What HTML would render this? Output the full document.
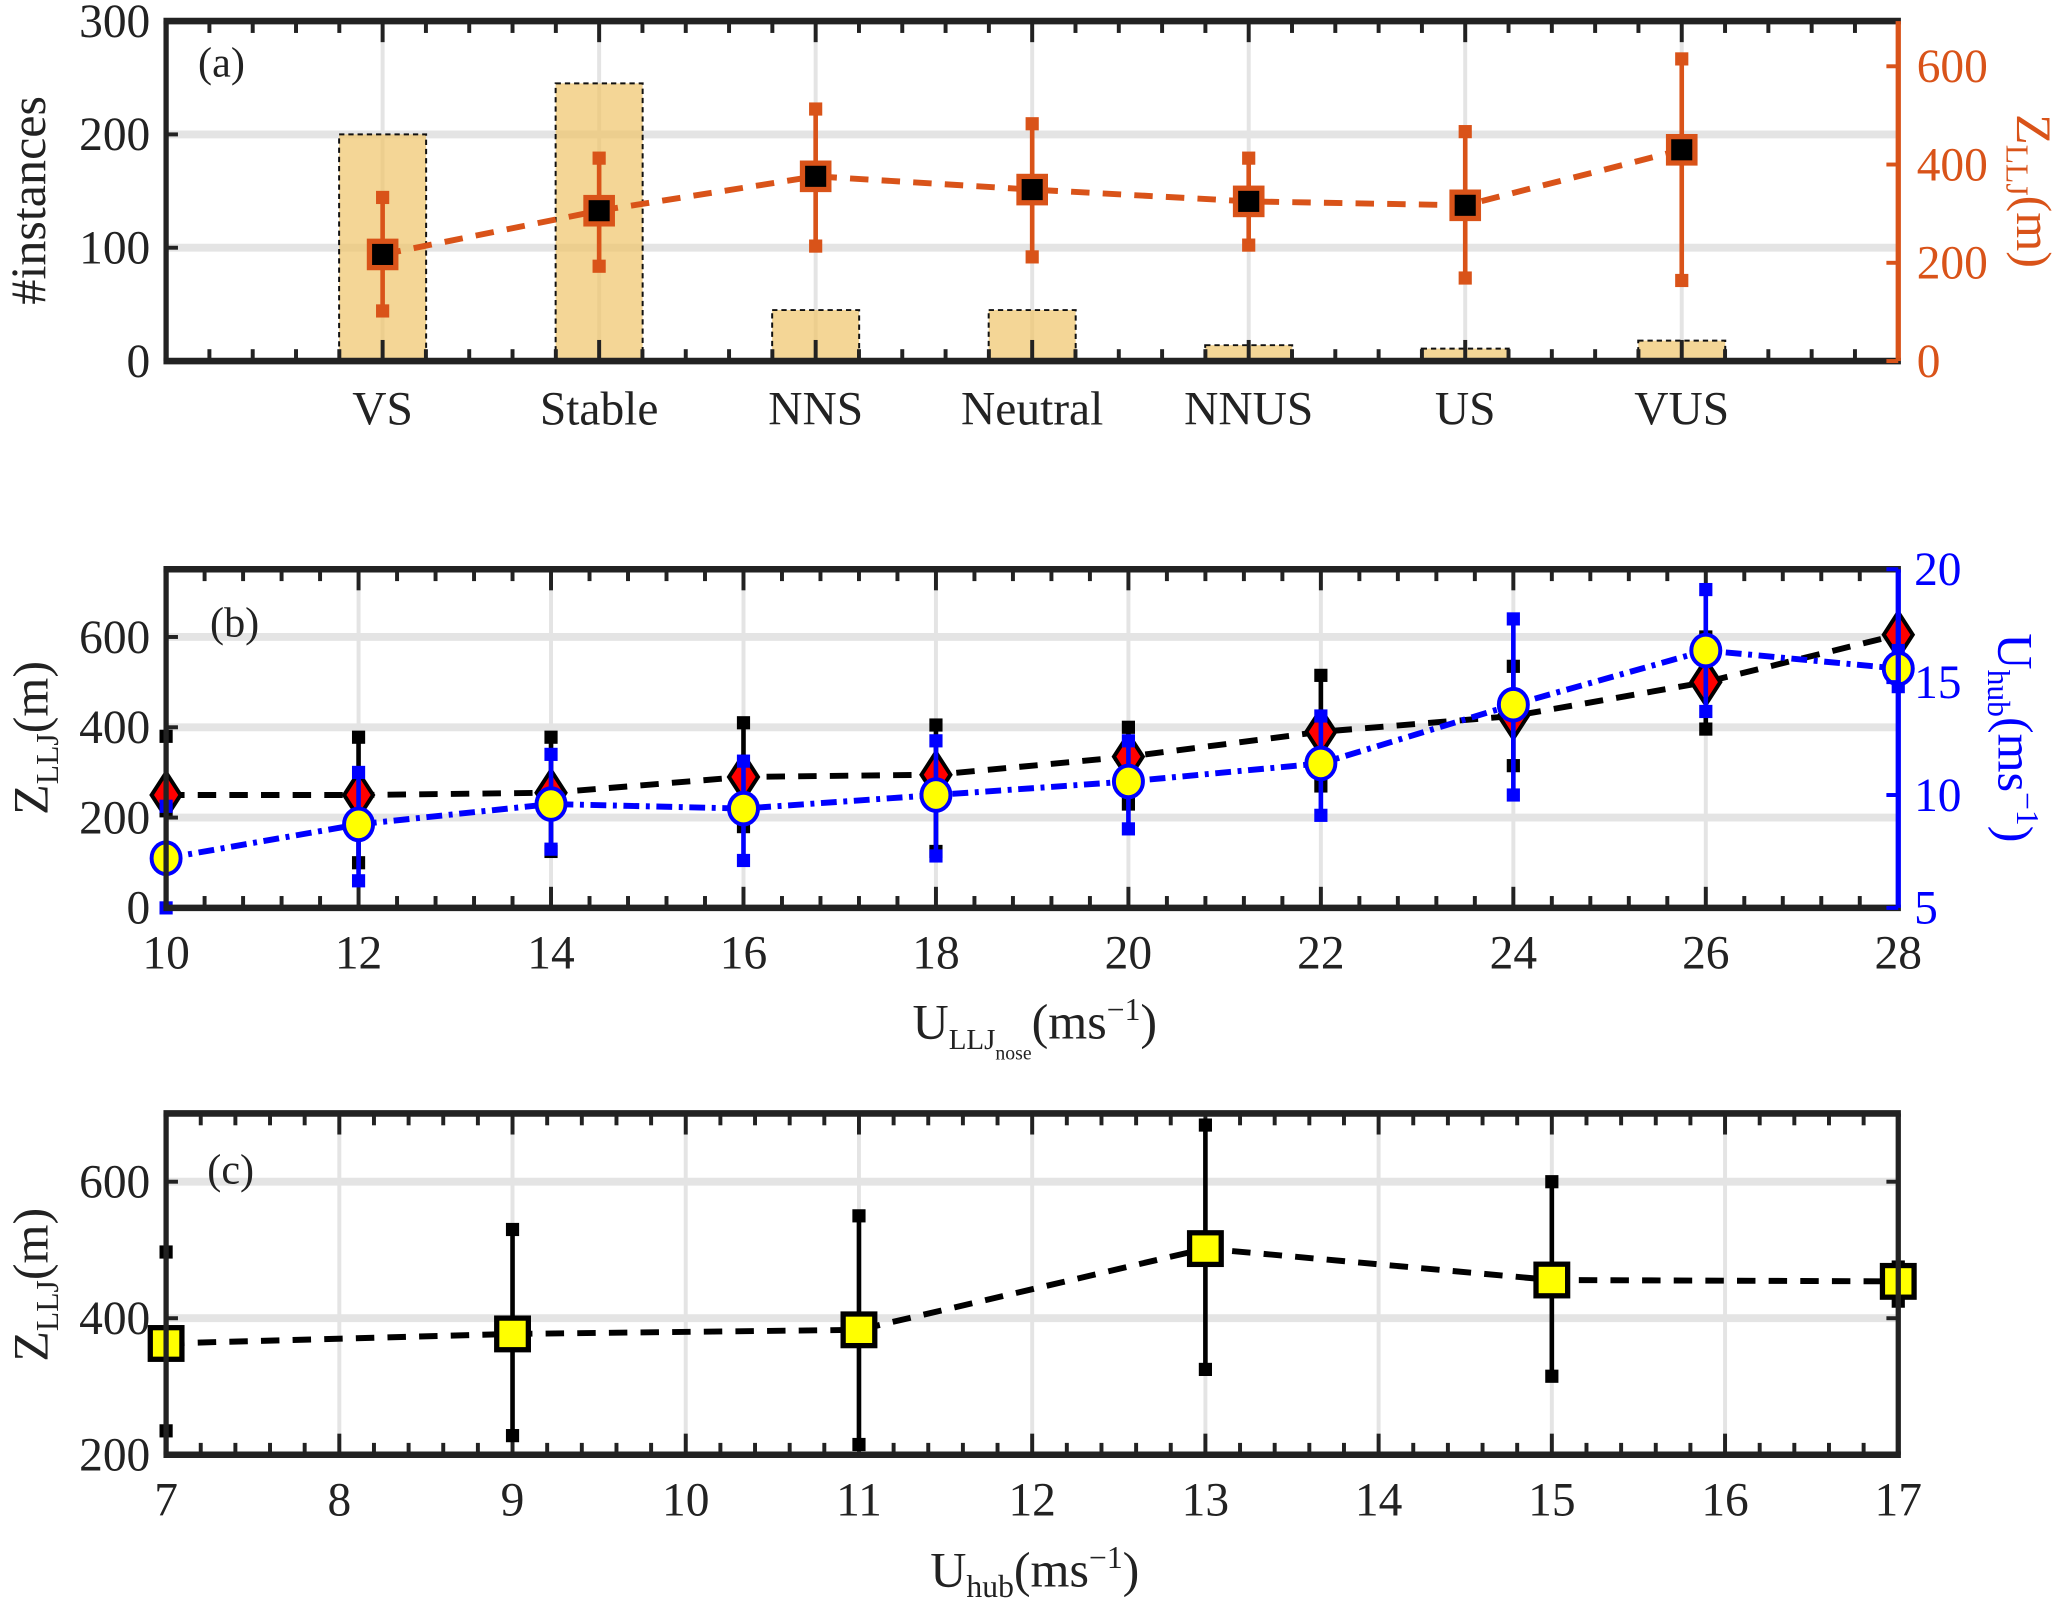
<!DOCTYPE html>
<html><head><meta charset="utf-8"><style>
html,body{margin:0;padding:0;background:#fff}
svg{display:block}
text{font-family:"Liberation Serif","DejaVu Serif","Times New Roman",serif}
</style></head><body>
<svg id="fig" xmlns="http://www.w3.org/2000/svg" width="2067" height="1601" viewBox="0 0 1568 1215" preserveAspectRatio="none" font-family="Liberation Serif, DejaVu Serif, serif"></svg>
<script>
// Panel (a)
const catsA = ["VS","Stable","NNS","Neutral","NNUS","US","VUS"];
const countsA = [200,245,45,45,14,11,18];
const zA = [217,306,376,349,325,317,430];
const zAlo = [102,193,234,212,236,169,164];
const zAhi = [333,413,513,483,413,467,615];
// Panel (b)
const uNose = [10,12,14,16,18,20,22,24,26,28];
const zB = [250,250,255,290,295,335,390,425,500,605];
const zBlo = [215,100,125,180,125,230,270,315,396,595];
const zBhi = [380,378,378,410,405,400,515,535,600,615];
const uB = [7.2,8.7,9.6,9.4,10.0,10.6,11.4,14.0,16.4,15.6];
const uBlo = [5.0,6.2,7.6,7.1,7.3,8.5,9.1,10.0,13.7,14.8];
const uBhi = [9.5,11.0,11.8,11.5,12.4,12.4,13.5,17.8,19.1,16.4];
// Panel (c)
const uHub = [7,9,11,13,15,17];
const zC = [363,377,383,502,456,454];
const zClo = [235,228,215,325,315,425];
const zChi = [497,530,550,683,600,475];

const NS="http://www.w3.org/2000/svg";
const svg=document.getElementById('fig');
function el(tag,attrs,parent){const e=document.createElementNS(NS,tag);for(const k in attrs)e.setAttribute(k,attrs[k]);(parent||svg).appendChild(e);return e;}
function txt(s,x,y,opts,parent){const t=el('text',Object.assign({x:x,y:y,'font-size':36,'text-anchor':'middle',fill:'#222','font-family':'Liberation Serif, DejaVu Serif, serif'},opts||{}),parent);t.innerHTML=s;return t;}
const L=126,R=1440;
function lin(d0,d1,p0,p1){return v=>p0+(v-d0)/(d1-d0)*(p1-p0);}

function frame(g,T,B,xs,xmin,xmax,minorStep,majors){
  for(let v=xmin;v<=xmax+1e-9;v+=minorStep){
    const x=xs(v);const isMaj=majors.some(m=>Math.abs(m-v)<1e-6);
    const len=isMaj?16:9;
    el('line',{x1:x,y1:B,x2:x,y2:B-len,stroke:'#222','stroke-width':3},g);
    el('line',{x1:x,y1:T,x2:x,y2:T+len,stroke:'#222','stroke-width':3},g);
  }
}
function vgrid(g,T,B,xs,vals){vals.forEach(v=>el('line',{x1:xs(v),y1:T,x2:xs(v),y2:B,stroke:'#e4e4e4','stroke-width':3},g));}
function hgrid(g,ys,vals){vals.forEach(v=>el('line',{x1:L,y1:ys(v),x2:R,y2:ys(v),stroke:'#e4e4e4','stroke-width':6},g));}
function errbar(g,x,y1,y2,color){
  el('line',{x1:x,y1:y1,x2:x,y2:y2,stroke:color,'stroke-width':3.5},g);
  el('rect',{x:x-5,y:y1-5,width:10,height:10,fill:color},g);
  el('rect',{x:x-5,y:y2-5,width:10,height:10,fill:color},g);
}
function box(g,T,B,rc){
  el('line',{x1:L-2,y1:T,x2:R+2,y2:T,stroke:'#222','stroke-width':5},g);
  el('line',{x1:L-2,y1:B,x2:R+2,y2:B,stroke:'#222','stroke-width':5},g);
  el('line',{x1:L,y1:T,x2:L,y2:B,stroke:'#222','stroke-width':4},g);
  el('line',{x1:R,y1:T,x2:R,y2:B,stroke:rc,'stroke-width':4},g);
}

// ===== Panel A =====
(function(){
  const g=el('g',{});
  const T=16,B=274;
  const xs=lin(0,8,L,R), yl=lin(0,300,B,T), yr=lin(0,692,B,T);
  vgrid(g,T,B,xs,[1,2,3,4,5,6,7]);
  hgrid(g,yl,[100,200]);
  countsA.forEach((c,i)=>{
    const r=el('rect',{x:xs(i+1)-33,y:yl(c),width:66,height:B-yl(c),fill:'#f0c46a','fill-opacity':0.7,stroke:'#111','stroke-width':1.5,'stroke-dasharray':'4,3'},g);
    
    
  });
  frame(g,T,B,xs,0,8,0.2,[1,2,3,4,5,6,7]);
  const pts=zA.map((v,i)=>xs(i+1)+','+yr(v)).join(' ');
  const ln=el('polyline',{points:pts,fill:'none',stroke:'#d95319','stroke-width':4.5,'stroke-dasharray':'14,10'},g);
  
  zA.forEach((v,i)=>{
    errbar(g,xs(i+1),yr(zAhi[i]),yr(zAlo[i]),'#d95319');
    const m=el('rect',{x:xs(i+1)-10,y:yr(v)-10,width:20,height:20,fill:'#000',stroke:'#d95319','stroke-width':4},g);
    
  });
  box(g,T,B,'#d95319');
  [0,100,200,300].forEach(v=>{el('line',{x1:L,y1:yl(v),x2:L+9,y2:yl(v),stroke:'#222','stroke-width':3},g);txt(v,L-12,yl(v)+12,{'text-anchor':'end'},g);});
  [0,200,400,600].forEach(v=>{el('line',{x1:R,y1:yr(v),x2:R-9,y2:yr(v),stroke:'#d95319','stroke-width':3},g);txt(v,R+14,yr(v)+12,{'text-anchor':'start',fill:'#d95319'},g);});
  catsA.forEach((c,i)=>txt(c,xs(i+1),322,{},g));
  txt('(a)',168,58,{'font-size':32},g);
  const yl1=txt('#instances',0,0,{transform:'translate(34,152) rotate(-90)','font-size':38},g);
  
  const yr1=txt('Z<tspan font-size="24" dy="8">LLJ</tspan><tspan dy="-8">(m)</tspan>',0,0,{transform:'translate(1530,145) rotate(90)','font-size':38,fill:'#d95319'},g);
  
})();

// ===== Panel B =====
(function(){
  const g=el('g',{});
  const T=432,B=689;
  const xs=lin(10,28,L,R), yl=lin(0,750,B,T), yr=lin(5,20,B,T);
  const maj=[10,12,14,16,18,20,22,24,26,28];
  vgrid(g,T,B,xs,maj);
  hgrid(g,yl,[200,400,600]);
  frame(g,T,B,xs,10,28,0.4,maj);
  el('polyline',{points:zB.map((v,i)=>xs(uNose[i])+','+yl(v)).join(' '),fill:'none',stroke:'#000','stroke-width':4.5,'stroke-dasharray':'14,10'},g);
  zB.forEach((v,i)=>{
    errbar(g,xs(uNose[i]),yl(zBhi[i]),yl(zBlo[i]),'#000');
    const x=xs(uNose[i]),y=yl(v);
    const d=el('polygon',{points:`${x},${y-17} ${x+11},${y} ${x},${y+17} ${x-11},${y}`,fill:'#f00',stroke:'#000','stroke-width':3},g);
    
  });
  el('polyline',{points:uB.map((v,i)=>xs(uNose[i])+','+yr(v)).join(' '),fill:'none',stroke:'#0000ff','stroke-width':4.5,'stroke-dasharray':'12,5,3,5'},g);
  uB.forEach((v,i)=>{
    errbar(g,xs(uNose[i]),yr(uBhi[i]),yr(uBlo[i]),'#0000ff');
    const c=el('ellipse',{cx:xs(uNose[i]),cy:yr(v),rx:11,ry:12,fill:'#ffff00',stroke:'#0000ff','stroke-width':3},g);
    
  });
  box(g,T,B,'#0000ff');
  [0,200,400,600].forEach(v=>{el('line',{x1:L,y1:yl(v),x2:L+9,y2:yl(v),stroke:'#222','stroke-width':3},g);txt(v,L-12,yl(v)+12,{'text-anchor':'end'},g);});
  [5,10,15,20].forEach(v=>{el('line',{x1:R,y1:yr(v),x2:R-9,y2:yr(v),stroke:'#0000ff','stroke-width':3},g);txt(v,R+12,yr(v)+12,{'text-anchor':'start',fill:'#0000ff'},g);});
  maj.forEach(v=>txt(v,xs(v),735,{},g));
  txt('(b)',178,483,{'font-size':32},g);
  txt('Z<tspan font-size="24" dy="8">LLJ</tspan><tspan dy="-8">(m)</tspan>',0,0,{transform:'translate(36,560) rotate(-90)','font-size':38},g);
  txt('U<tspan font-size="24" dy="8">hub</tspan><tspan dy="-8">(ms</tspan><tspan font-size="24" dy="-14">−1</tspan><tspan dy="14">)</tspan>',0,0,{transform:'translate(1516,560) rotate(90)','font-size':38,fill:'#0000ff'},g);
  txt('U<tspan font-size="22" dy="8">LLJ</tspan><tspan font-size="15" dy="8">nose</tspan><tspan dy="-16">(ms</tspan><tspan font-size="24" dy="-14">−1</tspan><tspan dy="14">)</tspan>',785,788,{'font-size':38},g);
})();

// ===== Panel C =====
(function(){
  const g=el('g',{});
  const T=845,B=1104;
  const xs=lin(7,17,L,R), yl=lin(200,700,B,T);
  const maj=[7,8,9,10,11,12,13,14,15,16,17];
  vgrid(g,T,B,xs,maj);
  hgrid(g,yl,[400,600]);
  frame(g,T,B,xs,7,17,0.2,maj);
  el('polyline',{points:zC.map((v,i)=>xs(uHub[i])+','+yl(v)).join(' '),fill:'none',stroke:'#000','stroke-width':4.5,'stroke-dasharray':'14,10'},g);
  zC.forEach((v,i)=>{
    errbar(g,xs(uHub[i]),yl(zChi[i]),yl(zClo[i]),'#000');
    const m=el('rect',{x:xs(uHub[i])-12,y:yl(v)-12,width:24,height:24,fill:'#ffff00',stroke:'#000','stroke-width':4},g);
    
  });
  box(g,T,B,'#222');
  [200,400,600].forEach(v=>{el('line',{x1:L,y1:yl(v),x2:L+9,y2:yl(v),stroke:'#222','stroke-width':3},g);el('line',{x1:R,y1:yl(v),x2:R-9,y2:yl(v),stroke:'#222','stroke-width':3},g);txt(v,L-12,yl(v)+12,{'text-anchor':'end'},g);});
  maj.forEach(v=>txt(v,xs(v),1150,{},g));
  txt('(c)',175,898,{'font-size':32},g);
  txt('Z<tspan font-size="24" dy="8">LLJ</tspan><tspan dy="-8">(m)</tspan>',0,0,{transform:'translate(36,975) rotate(-90)','font-size':38},g);
  txt('U<tspan font-size="24" dy="8">hub</tspan><tspan dy="-8">(ms</tspan><tspan font-size="24" dy="-14">−1</tspan><tspan dy="14">)</tspan>',785,1204,{'font-size':38},g);
})();
</script>
</body></html>
